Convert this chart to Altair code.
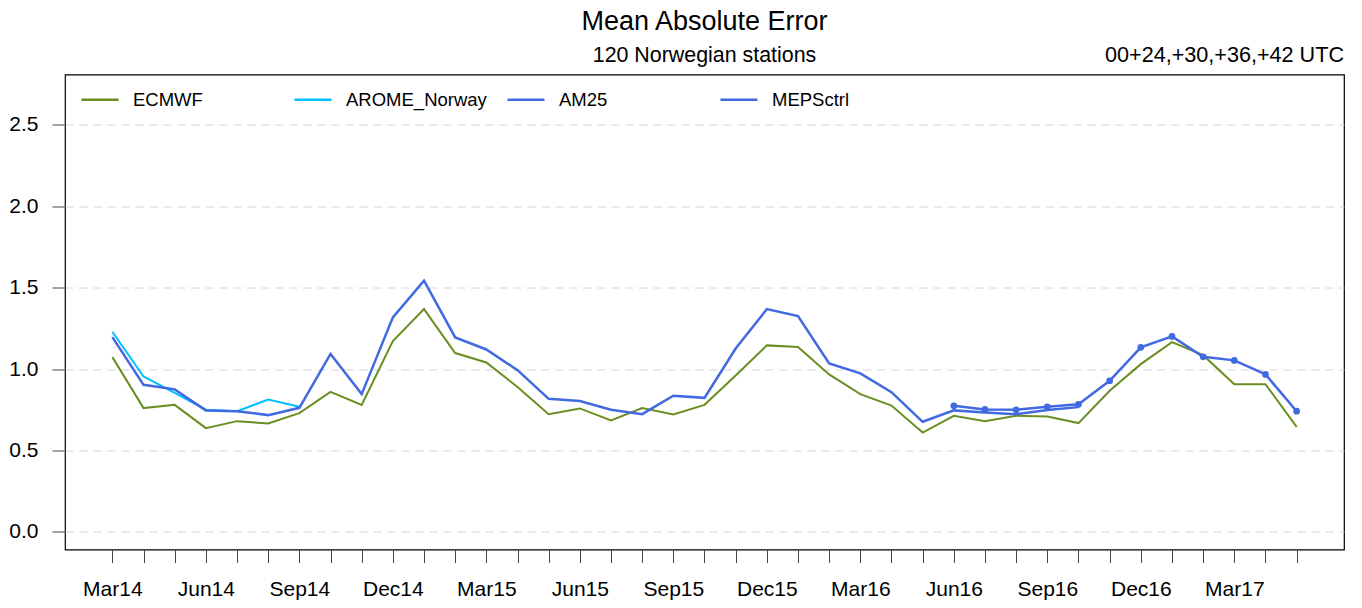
import json
import altair as alt
import pandas as pd

months = ["Mar14","Apr14","May14","Jun14","Jul14","Aug14","Sep14","Oct14","Nov14","Dec14",
          "Jan15","Feb15","Mar15","Apr15","May15","Jun15","Jul15","Aug15","Sep15","Oct15","Nov15","Dec15",
          "Jan16","Feb16","Mar16","Apr16","May16","Jun16","Jul16","Aug16","Sep16","Oct16","Nov16","Dec16",
          "Jan17","Feb17","Mar17","Apr17","May17"]

ecmwf = [1.073, 0.760, 0.780, 0.637, 0.680, 0.666, 0.729, 0.860, 0.780, 1.171,
         1.368, 1.098, 1.040, 0.890, 0.723, 0.758, 0.684, 0.760, 0.721, 0.780, 0.960, 1.145,
         1.135, 0.967, 0.846, 0.776, 0.610, 0.713, 0.680, 0.713, 0.709, 0.668, 0.866, 1.030,
         1.165, 1.085, 0.907, 0.907, 0.645]

arome = [1.229, 0.954, 0.853, 0.750, 0.741, 0.813, 0.768] + [None] * 32

am25 = [1.196, 0.903, 0.875, 0.746, 0.741, 0.717, 0.762, 1.093, 0.846, 1.317,
        1.542, 1.194, 1.120, 0.993, 0.817, 0.803, 0.750, 0.723, 0.836, 0.823, 1.126, 1.368,
        1.325, 1.034, 0.973, 0.858, 0.676, 0.746, 0.733, 0.723, 0.748, 0.766] + [None] * 7

mepsctrl = [None] * 27 + [0.774, 0.752, 0.750, 0.768, 0.783, 0.928, 1.133,
                          1.200, 1.075, 1.053, 0.967, 0.741]

series_names = ["ECMWF", "AROME_Norway", "AM25", "MEPSctrl"]
series_colors = ["#6B8E23", "#00BFFF", "#4169E1", "#4169E1"]
series_values = [ecmwf, arome, am25, mepsctrl]

title_text = "Mean Absolute Error"
subtitle_text = "120 Norwegian stations"
right_text = "00+24,+30,+36,+42 UTC"
y_ticks = [0.0, 0.5, 1.0, 1.5, 2.0, 2.5]

rows = []
for name, vals in zip(series_names, series_values):
    for i, v in enumerate(vals):
        if v is not None:
            rows.append({"series": name, "i": i, "month": months[i], "value": v})
df = pd.DataFrame(rows)

W, H = 1279, 475
FONT = "Liberation Sans"

label_expr = "datum.value % 3 == 0 ? " + json.dumps(months) + "[datum.value] : ''"

x_enc = alt.X("i:Q",
              scale=alt.Scale(domain=[-1.52, 39.52], nice=False, zero=False),
              axis=alt.Axis(values=list(range(len(months))), labelExpr=label_expr,
                            tickSize=13, labelPadding=16, grid=False, domain=False,
                            title=None, labelFontSize=21, labelOverlap=False,
                            tickColor="#444", labelColor="black", labelFont=FONT))
y_enc = alt.Y("value:Q",
              scale=alt.Scale(domain=[-0.108, 2.808], nice=False, zero=False),
              axis=alt.Axis(values=y_ticks, format=".1f", grid=True, gridDash=[8, 6],
                            gridColor="#d4d4d4", gridWidth=1, tickSize=13, labelPadding=14,
                            labelFontSize=21, domain=False, title=None, tickColor="#444",
                            labelColor="black", labelFont=FONT))

legend = alt.Legend(title=None, orient="none", legendX=15, legendY=5, direction="horizontal",
                    columns=4, symbolType="stroke", symbolSize=1369, symbolStrokeWidth=2.5,
                    labelFontSize=18.5, labelFont=FONT, labelColor="black", labelOffset=13,
                    columnPadding=15, gridAlign="all", padding=0, labelLimit=400)
color_enc = alt.Color("series:N",
                      scale=alt.Scale(domain=series_names, range=series_colors),
                      legend=legend)

base = alt.Chart(df)
widths = {"ECMWF": 2, "AROME_Norway": 2, "AM25": 2.5, "MEPSctrl": 2.5}
layers = []
for name in series_names:
    if name == "MEPSctrl":
        m = base.mark_line(strokeWidth=widths[name],
                           point=alt.OverlayMarkDef(filled=True, size=45))
    else:
        m = base.mark_line(strokeWidth=widths[name])
    layers.append(m.transform_filter(alt.datum.series == name)
                  .encode(x=x_enc, y=y_enc, color=color_enc, order="i:Q"))

t1 = alt.Chart(pd.DataFrame({"t": [title_text]})).mark_text(
    fontSize=27, font=FONT, align="center", baseline="alphabetic", color="black"
).encode(text="t:N", x=alt.value(W / 2), y=alt.value(-44.5))
t2 = alt.Chart(pd.DataFrame({"t": [subtitle_text]})).mark_text(
    fontSize=21.4, font=FONT, align="center", baseline="alphabetic", color="black"
).encode(text="t:N", x=alt.value(W / 2), y=alt.value(-12.5))
t3 = alt.Chart(pd.DataFrame({"t": [right_text]})).mark_text(
    fontSize=21.6, font=FONT, align="right", baseline="alphabetic", color="black"
).encode(text="t:N", x=alt.value(W), y=alt.value(-12.5))

chart = alt.layer(*layers, t1, t2, t3).properties(
    width=W, height=H,
    background="white",
    autosize=alt.AutoSizeParams(type="none"),
    padding={"left": 57, "top": 66.5, "right": 10, "bottom": 50},
).configure_view(stroke="black", strokeWidth=1.2)

chart.save("out.html", embed_options={"renderer": "svg", "actions": False})
